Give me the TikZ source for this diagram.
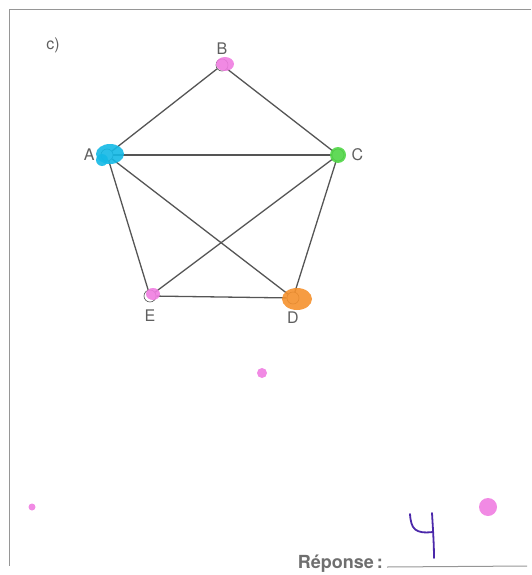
\documentclass[tikz,border=0pt]{standalone}
\usepackage{fontspec}
\setmainfont{TeX Gyre Heros}
\usetikzlibrary{positioning,calc}
\definecolor{GrafoTraco}{RGB}{85,85,85}
\definecolor{GrafoRotulo}{RGB}{95,95,95}
\definecolor{Moldura}{RGB}{150,150,150}
\definecolor{MarcaRosa}{RGB}{240,125,225}
\definecolor{MarcaCiano}{RGB}{20,185,230}
\definecolor{MarcaVerde}{RGB}{80,215,70}
\definecolor{MarcaLaranja}{RGB}{245,145,45}
\definecolor{MarcaRoxa}{RGB}{75,40,170}
\tikzset{
  sommet/.style={circle, draw=GrafoTraco, fill=white, line width=0.6pt,
                 minimum size=12pt, inner sep=0pt},
  rotulo/.style={font=\fontsize{16}{18}\selectfont, text=GrafoRotulo, inner sep=1pt},
  aresta/.style={draw=GrafoTraco, line width=1.3pt},
  tache/.style={opacity=0.9},
}

\begin{document}
\begin{tikzpicture}[x=1pt, y=-1pt]
  \useasboundingbox (0,0) rectangle (531,575);

  % Moldura do exercício
  \coordinate (mtopo) at (531,10);
  \coordinate (mcanto) at (9,10);
  \coordinate (mbase) at (9,566);
  \draw[Moldura, line width=1pt] (mtopo) -- (mcanto) -- (mbase);
  \node[rotulo] (item) at (53,45) {c)};

  % Vértices do grafo
  \node[sommet, label={[rotulo, label distance=3pt]above:B}] (B) at (222,65) {};
  \node[sommet, label={[rotulo, label distance=5pt]left:A}]  (A) at (107,155) {};
  \node[sommet, label={[rotulo, label distance=6pt]right:C}] (C) at (338,155) {};
  \node[sommet, label={[rotulo, label distance=6pt]below:D}] (D) at (293,298) {};
  \node[sommet, label={[rotulo, label distance=6pt]below:E}] (E) at (150,296) {};

  % Arestas
  \foreach \u/\v in {A/B, B/C, A/C, A/E, A/D, C/E, C/D, E/D}{
    \draw[aresta] (\u) -- (\v);
  }

  % Manchas de cor (coloração à mão)
  \fill[MarcaCiano, tache] (110,154) ellipse (14pt and 10pt);
  \fill[MarcaCiano, tache] (102,160) circle (6pt);
  \fill[MarcaVerde, tache] (338,155) circle (8pt);
  \fill[MarcaRosa, tache] (225,64) ellipse (9pt and 7pt);
  \fill[MarcaRosa, tache] (153,294) ellipse (7pt and 6pt);
  \fill[MarcaLaranja, tache] (297,299) ellipse (15pt and 11pt);
  \foreach \x/\y/\r in {262/373/5, 32/507/3.5, 488/507/9}{
    \fill[MarcaRosa, tache] (\x,\y) circle (\r pt);
  }

  % Resposta
  \node[rotulo, font=\fontsize{18}{20}\selectfont\bfseries, anchor=base east,
        text=GrafoRotulo!90] (rep) at (384,568) {Réponse\,:};
  \coordinate (linfim) at (527,566);
  \draw[Moldura, line width=1pt] ($(rep.base east)+(3,-1)$) -- (linfim);
  \coordinate (q1) at (410,514);
  \coordinate (q2) at (433,532);
  \coordinate (q3) at (432,513);
  \coordinate (q4) at (434,558);
  \draw[MarcaRoxa, line width=1.8pt, line cap=round]
    (q1) .. controls (411,529) and (415,534) .. (q2);
  \draw[MarcaRoxa, line width=1.8pt, line cap=round]
    (q3) .. controls (433,530) and (434,545) .. (q4);
\end{tikzpicture}
\end{document}
